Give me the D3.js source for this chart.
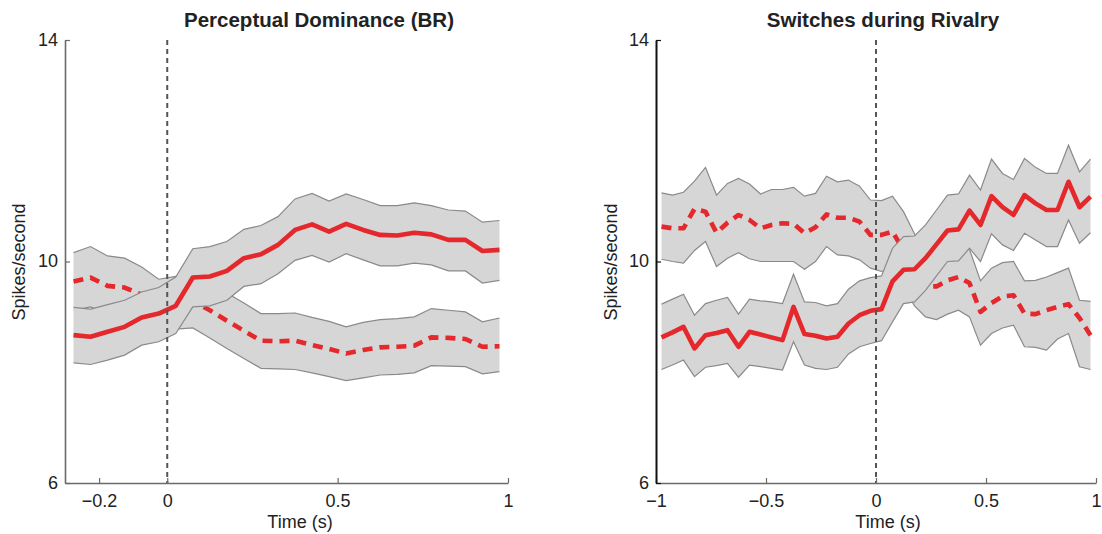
<!DOCTYPE html>
<html><head><meta charset="utf-8">
<script src="https://cdn.jsdelivr.net/npm/d3@7"></script>
<style>
body{margin:0;background:#fff}
svg{display:block}
text{font-family:"Liberation Sans",Arial,Helvetica,sans-serif;fill:#222}
</style>
</head><body>
<svg id="chart" width="1102" height="534"></svg>
<script>
// ---------- data ----------
const titles = ["Perceptual Dominance (BR)", "Switches during Rivalry"];
const xLabel = "Time (s)";
const yLabel = "Spikes/second";
const yTicks = [6, 10, 14];
const leftXTicks = [-0.2, 0, 0.5, 1];
const rightXTicks = [-1, -0.5, 0, 0.5, 1];

const leftTime = [-0.275,-0.225,-0.175,-0.125,-0.075,-0.025,0.025,0.075,0.125,0.175,0.225,0.275,0.325,0.375,0.425,0.475,0.525,0.575,0.625,0.675,0.725,0.775,0.825,0.875,0.925,0.975];
const leftSolidMean  = [8.67,8.64,8.73,8.82,8.99,9.06,9.20,9.71,9.73,9.83,10.06,10.13,10.30,10.57,10.67,10.54,10.68,10.57,10.48,10.47,10.52,10.49,10.39,10.39,10.19,10.21];
const leftSolidUpper = [9.17,9.14,9.22,9.30,9.45,9.53,9.72,10.23,10.27,10.36,10.58,10.65,10.81,11.13,11.23,11.09,11.22,11.12,11.01,11.01,11.06,11.01,10.93,10.91,10.71,10.74];
const leftSolidLower = [8.17,8.14,8.22,8.31,8.49,8.55,8.70,9.18,9.20,9.30,9.55,9.60,9.78,10.02,10.11,9.99,10.14,10.03,9.92,9.92,9.97,9.94,9.83,9.83,9.61,9.66];
const leftDashMean   = [9.64,9.71,9.56,9.53,9.40,9.33,9.30,9.28,9.12,8.93,8.75,8.57,8.56,8.57,8.49,8.42,8.34,8.40,8.45,8.46,8.48,8.63,8.62,8.60,8.46,8.47];
const leftDashUpper  = [10.16,10.27,10.10,10.06,9.90,9.68,9.73,9.75,9.60,9.43,9.25,9.06,9.06,9.07,8.99,8.92,8.82,8.90,8.95,8.97,9.00,9.15,9.12,9.09,8.91,8.98];
const leftDashLower  = [9.12,9.18,9.05,9.02,8.90,8.85,8.78,8.80,8.62,8.43,8.25,8.07,8.06,8.05,7.99,7.92,7.85,7.90,7.95,7.96,7.99,8.12,8.11,8.10,7.97,8.01];

const rightTime = [-0.975,-0.925,-0.875,-0.825,-0.775,-0.725,-0.675,-0.625,-0.575,-0.525,-0.475,-0.425,-0.375,-0.325,-0.275,-0.225,-0.175,-0.125,-0.075,-0.025,0.025,0.075,0.125,0.175,0.225,0.275,0.325,0.375,0.425,0.475,0.525,0.575,0.625,0.675,0.725,0.775,0.825,0.875,0.925,0.975];
const rightSolidMean  = [8.63,8.72,8.82,8.43,8.67,8.71,8.76,8.46,8.73,8.68,8.63,8.58,9.18,8.69,8.66,8.61,8.64,8.88,9.03,9.11,9.14,9.64,9.85,9.86,10.06,10.31,10.56,10.58,10.92,10.66,11.18,10.98,10.84,11.20,11.05,10.93,10.93,11.44,10.98,11.17];
const rightSolidUpper = [9.23,9.32,9.41,9.03,9.24,9.30,9.35,9.05,9.32,9.29,9.27,9.24,9.77,9.27,9.26,9.20,9.24,9.50,9.65,9.71,9.74,10.24,10.45,10.46,10.66,10.93,11.20,11.22,11.56,11.29,11.85,11.59,11.48,11.86,11.70,11.59,11.59,12.10,11.62,11.85];
const rightSolidLower = [8.05,8.13,8.22,7.92,8.09,8.12,8.16,7.91,8.13,8.10,8.07,8.04,8.55,8.13,8.07,8.05,8.09,8.33,8.46,8.52,8.57,8.91,9.24,9.27,9.48,9.74,10.00,10.01,10.24,10.00,10.50,10.30,10.20,10.51,10.39,10.27,10.27,10.75,10.33,10.52];
const rightDashMean   = [10.63,10.60,10.60,10.95,10.90,10.52,10.70,10.84,10.75,10.60,10.66,10.69,10.68,10.51,10.62,10.85,10.79,10.79,10.72,10.48,10.48,10.54,10.20,9.80,9.55,9.55,9.66,9.72,9.61,9.09,9.25,9.37,9.39,9.06,9.05,9.12,9.18,9.23,8.98,8.67];
const rightDashUpper  = [11.24,11.20,11.25,11.45,11.70,11.20,11.41,11.50,11.40,11.22,11.30,11.30,11.34,11.18,11.23,11.54,11.44,11.47,11.36,11.11,11.10,11.18,10.90,10.50,10.15,10.15,10.25,10.33,10.22,9.65,9.88,9.98,10.00,9.65,9.66,9.72,9.80,9.88,9.30,9.28];
const rightDashLower  = [10.04,10.00,9.97,10.20,10.36,9.91,10.06,10.16,10.05,10.00,10.00,10.00,10.00,9.86,10.00,10.27,10.12,10.10,10.03,9.88,9.82,9.90,9.55,9.20,9.00,8.95,9.05,9.12,9.00,8.49,8.70,8.80,8.85,8.46,8.45,8.40,8.60,8.70,8.10,8.05];

// ---------- layout ----------
const svg = d3.select("#chart");
const red = "#e4282c";
const bandFill = "#d6d6d6";
const bandEdge = "#8a8a8a";

const panels = [
  {title: titles[0], time: leftTime, xDomain: [-0.3, 1], xRange: [65, 508], xTicks: leftXTicks,
   sm: leftSolidMean, su: leftSolidUpper, sl: leftSolidLower,
   dm: leftDashMean, du: leftDashUpper, dl: leftDashLower,
   titleX: 319, xLabelX: 300, yLabelX: 19, yAxisColor: "#6a6a6a", yAxisWidth: 1.6},
  {title: titles[1], time: rightTime, xDomain: [-1, 1], xRange: [656, 1096], xTicks: rightXTicks,
   sm: rightSolidMean, su: rightSolidUpper, sl: rightSolidLower,
   dm: rightDashMean, du: rightDashUpper, dl: rightDashLower,
   titleX: 883, xLabelX: 888, yLabelX: 611, yAxisColor: "#111", yAxisWidth: 2}
];

const y = d3.scaleLinear().domain([6, 14]).range([483, 40]);
const fmt = d3.format("");

panels.forEach(p => {
  const x = d3.scaleLinear().domain(p.xDomain).range(p.xRange);
  const g = svg.append("g");
  const idx = d3.range(p.time.length);

  const area = (up, lo) => d3.area().x(i => x(p.time[i])).y0(i => y(lo[i])).y1(i => y(up[i]))(idx);
  const line = arr => d3.line().x(i => x(p.time[i])).y(i => y(arr[i]))(idx);

  // dashed-series band and line (drawn first, underneath)
  g.append("path").attr("d", area(p.du, p.dl)).attr("fill", bandFill).attr("stroke", "none");
  g.append("path").attr("d", line(p.du)).attr("fill", "none").attr("stroke", bandEdge).attr("stroke-width", 1.2);
  g.append("path").attr("d", line(p.dl)).attr("fill", "none").attr("stroke", bandEdge).attr("stroke-width", 1.2);
  g.append("path").attr("d", line(p.dm)).attr("fill", "none").attr("stroke", red)
    .attr("stroke-width", 4.6).attr("stroke-dasharray", "10,7").attr("stroke-linejoin", "round");

  // solid-series band and line
  g.append("path").attr("d", area(p.su, p.sl)).attr("fill", bandFill).attr("stroke", "none");
  g.append("path").attr("d", line(p.su)).attr("fill", "none").attr("stroke", bandEdge).attr("stroke-width", 1.2);
  g.append("path").attr("d", line(p.sl)).attr("fill", "none").attr("stroke", bandEdge).attr("stroke-width", 1.2);
  g.append("path").attr("d", line(p.sm)).attr("fill", "none").attr("stroke", red)
    .attr("stroke-width", 4.6).attr("stroke-linejoin", "round");

  // vertical dashed reference at t = 0
  g.append("line").attr("x1", x(0)).attr("x2", x(0)).attr("y1", y(14)).attr("y2", y(6))
    .attr("stroke", "#555").attr("stroke-width", 2).attr("stroke-dasharray", "5,4");

  // axes
  const xa = g.append("g").attr("transform", `translate(0,${y(6)})`)
    .call(d3.axisBottom(x).tickValues(p.xTicks).tickFormat(fmt).tickSizeInner(-5).tickSizeOuter(0).tickPadding(11));
  xa.select(".domain").attr("stroke", "#6a6a6a").attr("stroke-width", 1.6);
  xa.selectAll(".tick line").attr("stroke", "#6a6a6a").attr("stroke-width", 1.2);
  xa.selectAll(".tick text").attr("font-size", 18).attr("fill", "#222").style("font-family", '"Liberation Sans",Arial,sans-serif');

  const ya = g.append("g").attr("transform", `translate(${p.xRange[0]},0)`)
    .call(d3.axisLeft(y).tickValues(yTicks).tickFormat(fmt).tickSizeInner(-5).tickSizeOuter(0).tickPadding(7));
  ya.select(".domain").attr("stroke", p.yAxisColor).attr("stroke-width", p.yAxisWidth);
  ya.selectAll(".tick line").attr("stroke", p.yAxisColor).attr("stroke-width", 1.2);
  ya.selectAll(".tick text").attr("font-size", 18).attr("fill", "#222").attr("dy", "0.28em").style("font-family", '"Liberation Sans",Arial,sans-serif');

  // texts
  svg.append("text").attr("x", p.titleX).attr("y", 27).attr("text-anchor", "middle")
    .attr("font-size", 20.5).attr("font-weight", "bold").text(p.title);
  svg.append("text").attr("x", p.xLabelX).attr("y", 528).attr("text-anchor", "middle")
    .attr("font-size", 18).text(xLabel);
  svg.append("text").attr("transform", `translate(${p.yLabelX},262) rotate(-90)`)
    .attr("text-anchor", "middle").attr("dy", "0.35em").attr("font-size", 18).text(yLabel);
});
</script>
</body></html>
